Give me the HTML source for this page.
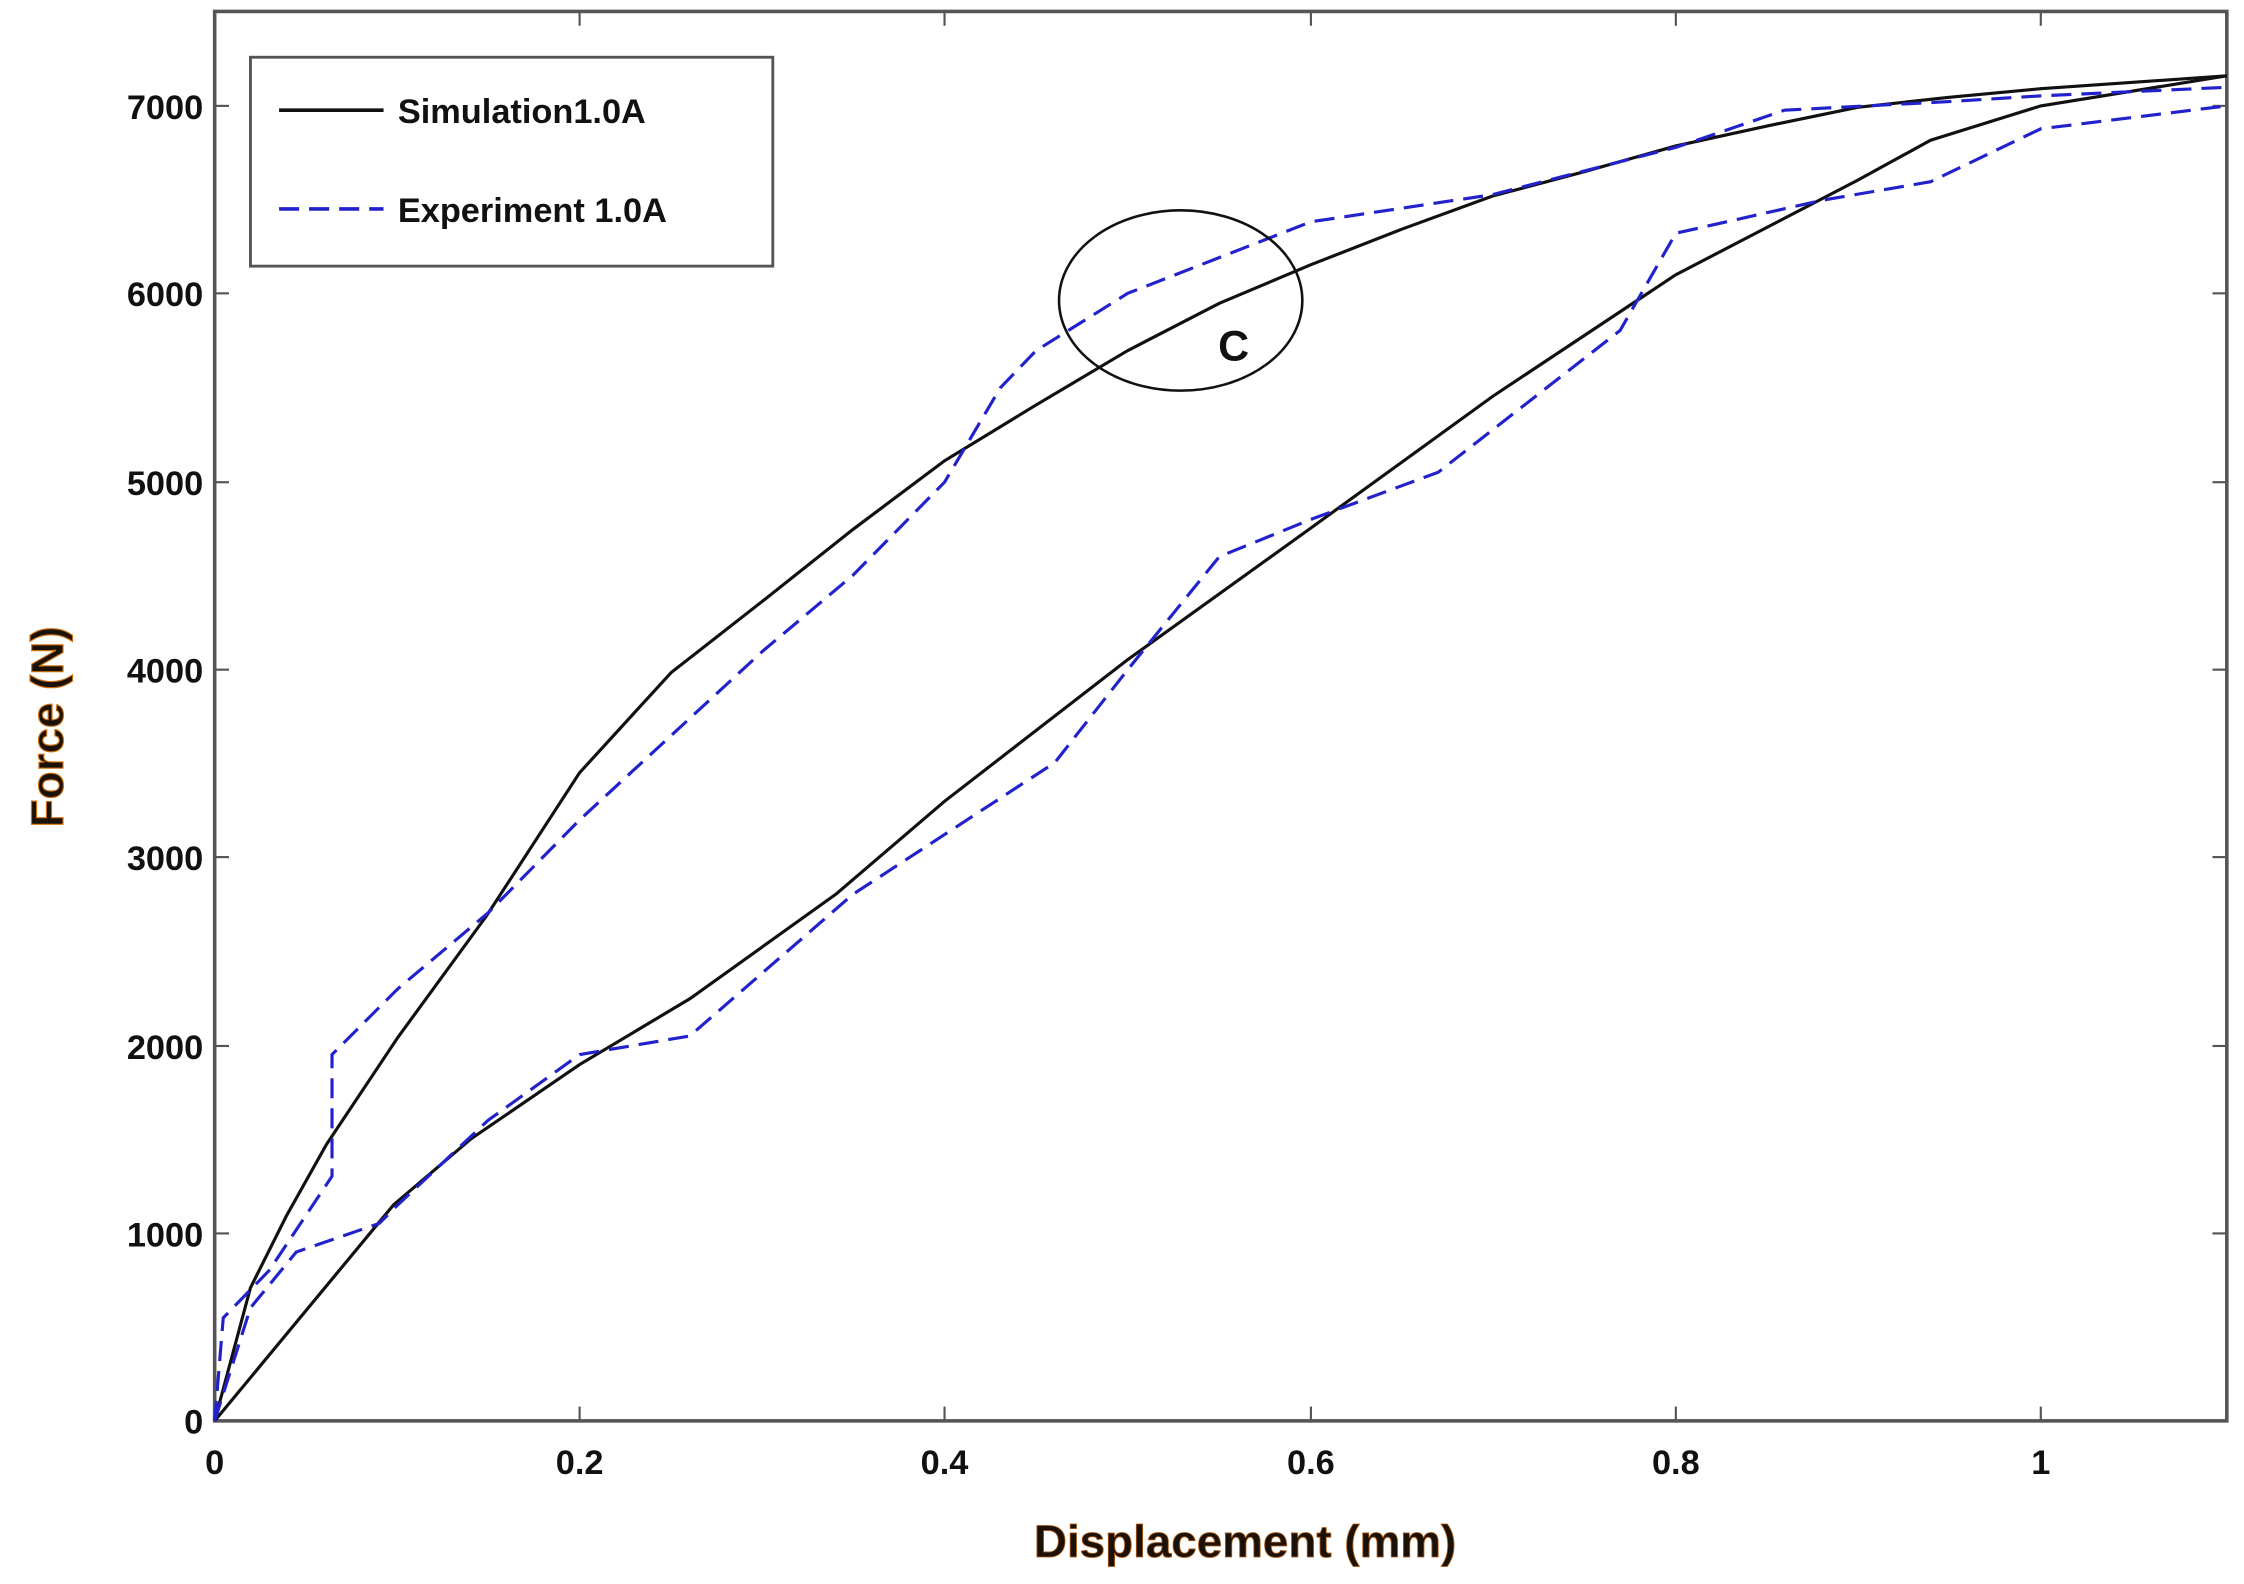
<!DOCTYPE html>
<html><head><meta charset="utf-8"><style>
html,body{margin:0;padding:0;background:#fff;}
svg{display:block;}
text{font-family:"Liberation Sans",sans-serif;}
</style></head><body>
<svg width="2244" height="1584" viewBox="0 0 1568 1107" preserveAspectRatio="none" xmlns="http://www.w3.org/2000/svg">
<rect width="1568" height="1107" fill="#fff"/>
<rect x="150" y="8" width="1406" height="985" fill="#fff" stroke="#555" stroke-width="2.5"/>
<g stroke="#555" stroke-width="1.5">
<line x1="405" y1="993" x2="405" y2="983"/><line x1="660" y1="993" x2="660" y2="983"/><line x1="916" y1="993" x2="916" y2="983"/><line x1="1171" y1="993" x2="1171" y2="983"/><line x1="1426" y1="993" x2="1426" y2="983"/>
<line x1="405" y1="8" x2="405" y2="18"/><line x1="660" y1="8" x2="660" y2="18"/><line x1="916" y1="8" x2="916" y2="18"/><line x1="1171" y1="8" x2="1171" y2="18"/><line x1="1426" y1="8" x2="1426" y2="18"/>
<line x1="150" y1="862" x2="160" y2="862"/><line x1="150" y1="731" x2="160" y2="731"/><line x1="150" y1="599" x2="160" y2="599"/><line x1="150" y1="468" x2="160" y2="468"/><line x1="150" y1="337" x2="160" y2="337"/><line x1="150" y1="205" x2="160" y2="205"/><line x1="150" y1="74" x2="160" y2="74"/>
<line x1="1556" y1="862" x2="1546" y2="862"/><line x1="1556" y1="731" x2="1546" y2="731"/><line x1="1556" y1="599" x2="1546" y2="599"/><line x1="1556" y1="468" x2="1546" y2="468"/><line x1="1556" y1="337" x2="1546" y2="337"/><line x1="1556" y1="205" x2="1546" y2="205"/><line x1="1556" y1="74" x2="1546" y2="74"/>
</g>
<g font-size="24" font-weight="bold" fill="#111" text-anchor="end">
<text x="142" y="1002">0</text><text x="142" y="871">1000</text><text x="142" y="740">2000</text><text x="142" y="608">3000</text><text x="142" y="477">4000</text><text x="142" y="346">5000</text><text x="142" y="214">6000</text><text x="142" y="83">7000</text>
</g>
<g font-size="24" font-weight="bold" fill="#111" text-anchor="middle">
<text x="150" y="1030">0</text><text x="405" y="1030">0.2</text><text x="660" y="1030">0.4</text><text x="916" y="1030">0.6</text><text x="1171" y="1030">0.8</text><text x="1426" y="1030">1</text>
</g>
<text x="870" y="1088" font-size="32" font-weight="bold" fill="#1a1208" text-anchor="middle" stroke="#b05a10" stroke-width="0.6">Displacement (mm)</text>
<text transform="translate(44,508) rotate(-90)" font-size="32" font-weight="bold" fill="#1a1208" text-anchor="middle" stroke="#d07010" stroke-width="0.8">Force (N)</text>
<polyline fill="none" stroke="#111" stroke-width="2.2" points="150,993 175,900 200,850 228,800 278,725 340,640 405,540 469,470 533,420 596,370 660,322 724,283 788,245 852,212 916,185 980,160 1043,137 1107,120 1171,102 1235,88 1298,75 1362,68 1426,62 1556,53"/>
<polyline fill="none" stroke="#111" stroke-width="2.2" points="150,993 275,842 329,796 405,744 482,698 584,625 660,560 788,461 916,369 1043,277 1171,192 1298,126 1349,98 1426,74 1556,53"/>
<polyline fill="none" stroke="#2222cc" stroke-width="2.2" stroke-dasharray="14,7" points="150,993 156,921 188,888 232,822 232,737 278,691 341,638 405,573 533,455 596,402 660,337 699,271 724,245 788,205 916,155 1043,136 1171,103 1247,77 1362,71 1426,67 1556,61"/>
<polyline fill="none" stroke="#2222cc" stroke-width="2.2" stroke-dasharray="14,7" points="150,993 175,914 207,875 265,855 278,842 341,783 405,737 482,724 596,625 737,533 788,468 852,389 916,363 1005,330 1132,231 1171,163 1273,140 1349,127 1426,90 1556,74"/>
<ellipse cx="825" cy="210" rx="85" ry="63" fill="none" stroke="#111" stroke-width="1.8"/>
<text x="862" y="252" font-size="30" font-weight="bold" fill="#111" text-anchor="middle">C</text>
<rect x="175" y="40" width="365" height="146" fill="#fff" stroke="#555" stroke-width="2"/>
<line x1="195" y1="77" x2="268" y2="77" stroke="#111" stroke-width="2.5"/>
<line x1="195" y1="146" x2="268" y2="146" stroke="#2222cc" stroke-width="2.5" stroke-dasharray="14,7"/>
<text x="278" y="86" font-size="24" font-weight="bold" fill="#111">Simulation1.0A</text>
<text x="278" y="155" font-size="24" font-weight="bold" fill="#111">Experiment 1.0A</text>
</svg>
</body></html>
